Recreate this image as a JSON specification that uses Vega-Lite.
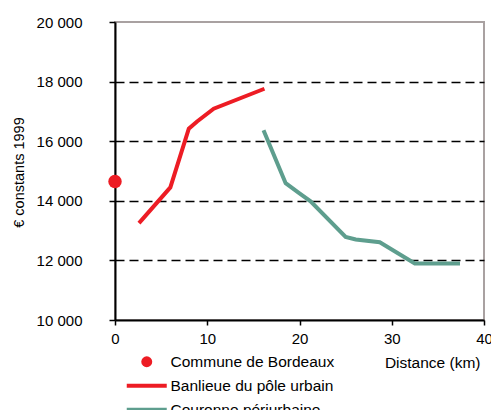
{
  "$schema": "https://vega.github.io/schema/vega-lite/v6.json",
  "width": 369,
  "height": 298,
  "autosize": "none",
  "padding": {"left": 115, "top": 22, "right": 7, "bottom": 90},
  "background": "white",
  "config": {
    "view": {"stroke": "#a9a1a1", "strokeWidth": 2},
    "font": "Liberation Sans"
  },
  "data": {
    "values": [
      {"serie": "Commune de Bordeaux", "km": 0, "euros": 14650},
      {"serie": "Banlieue du pôle urbain", "km": 2.6, "euros": 13250},
      {"serie": "Banlieue du pôle urbain", "km": 6.0, "euros": 14450},
      {"serie": "Banlieue du pôle urbain", "km": 8.0, "euros": 16420},
      {"serie": "Banlieue du pôle urbain", "km": 8.9, "euros": 16660},
      {"serie": "Banlieue du pôle urbain", "km": 10.7, "euros": 17090},
      {"serie": "Banlieue du pôle urbain", "km": 16.2, "euros": 17760},
      {"serie": "Couronne périurbaine", "km": 16.1, "euros": 16370},
      {"serie": "Couronne périurbaine", "km": 18.5, "euros": 14590},
      {"serie": "Couronne périurbaine", "km": 20.0, "euros": 14250},
      {"serie": "Couronne périurbaine", "km": 21.2, "euros": 13980},
      {"serie": "Couronne périurbaine", "km": 25.0, "euros": 12790},
      {"serie": "Couronne périurbaine", "km": 26.1, "euros": 12700},
      {"serie": "Couronne périurbaine", "km": 28.7, "euros": 12610},
      {"serie": "Couronne périurbaine", "km": 32.5, "euros": 11900},
      {"serie": "Couronne périurbaine", "km": 37.4, "euros": 11900}
    ]
  },
  "encoding": {
    "x": {
      "field": "km", "type": "quantitative",
      "scale": {"domain": [0, 40], "nice": false},
      "axis": {
        "values": [0, 10, 20, 30, 40],
        "grid": false,
        "domainColor": "black", "domainWidth": 2,
        "tickColor": "black", "tickSize": 5, "tickWidth": 1.5,
        "labelPadding": 6, "labelFontSize": 15, "labelColor": "black", "labelAngle": 0,
        "labelOverlap": false, "labelFlush": false,
        "title": "Distance (km)", "titleFontSize": 15.5, "titleFontWeight": "normal", "titleColor": "black",
        "titleX": 365, "titleY": 42, "titleAlign": "right", "titleBaseline": "middle"
      }
    },
    "y": {
      "field": "euros", "type": "quantitative",
      "scale": {"domain": [10000, 20000], "nice": false, "zero": false},
      "axis": {
        "values": [10000, 12000, 14000, 16000, 18000, 20000],
        "labelExpr": "replace(format(datum.value, ','), ',', ' ')",
        "domainColor": "black", "domainWidth": 2,
        "tickColor": "black", "tickSize": 6, "tickWidth": 1.5,
        "labelPadding": 27, "labelFontSize": 15, "labelColor": "black",
        "labelOverlap": false, "labelFlush": false,
        "grid": true, "gridColor": "black", "gridDash": [9, 5], "gridWidth": 1.5,
        "gridOpacity": {"condition": {"test": "datum.value >= 20000 || datum.value <= 10000", "value": 0}, "value": 1},
        "title": "€ constants 1999", "titleFontSize": 14.5, "titleFontWeight": "normal", "titleColor": "black",
        "titleX": -96, "titleY": 150, "titleAngle": -90, "titleAlign": "center", "titleBaseline": "middle"
      }
    },
    "color": {
      "field": "serie", "type": "nominal",
      "scale": {
        "domain": ["Commune de Bordeaux", "Banlieue du pôle urbain", "Couronne périurbaine"],
        "range": ["#ED1C24", "#ED1C24", "#5E9E8E"]
      },
      "legend": {
        "orient": "none", "legendX": 24, "legendY": 332,
        "title": null, "padding": 0,
        "symbolSize": 100, "labelOffset": 16,
        "labelFontSize": 15.5, "labelColor": "black", "labelLimit": 400,
        "rowPadding": 6,
        "encode": {
          "symbols": {
            "update": {
              "shape": {"signal": "datum.value === 'Commune de Bordeaux' ? 'circle' : 'stroke'"},
              "size": {"signal": "datum.value === 'Commune de Bordeaux' ? 120 : 1600"},
              "strokeWidth": {"signal": "datum.value === 'Commune de Bordeaux' ? 0 : 4"},
              "fill": {"signal": "datum.value === 'Commune de Bordeaux' ? '#ED1C24' : 'transparent'"},
              "stroke": {"signal": "datum.value === 'Couronne périurbaine' ? '#5E9E8E' : '#ED1C24'"},
              "opacity": {"value": 1}
            }
          }
        }
      }
    }
  },
  "layer": [
    {
      "transform": [{"filter": "datum.serie !== 'Commune de Bordeaux'"}],
      "mark": {"type": "line", "strokeWidth": 4}
    },
    {
      "transform": [{"filter": "datum.serie === 'Commune de Bordeaux'"}],
      "mark": {"type": "circle", "size": 180, "opacity": 1}
    }
  ]
}
